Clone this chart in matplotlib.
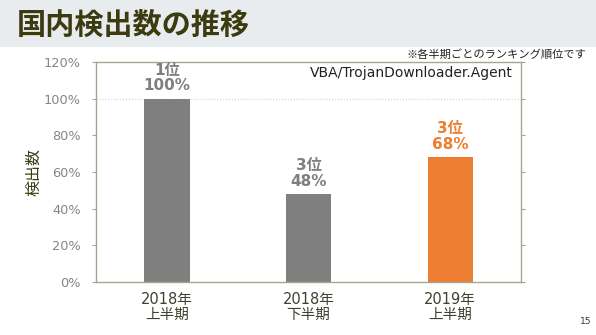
import matplotlib
matplotlib.use('Agg')
import matplotlib.pyplot as plt
from matplotlib.patches import Rectangle
from matplotlib.ticker import PercentFormatter

plt.rcParams['font.family'] = ['Noto Sans CJK JP', 'DejaVu Sans']
LATIN_FIRST = ['DejaVu Sans', 'Noto Sans CJK JP']

# ─── data ─────────────────────────────────────────────────────────────────────
categories = ['2018年\n上半期', '2018年\n下半期', '2019年\n上半期']
values = [100, 48, 68]
ranks = ['1位', '3位', '3位']
bar_colors = ['#7f7f7f', '#7f7f7f', '#ed7d31']

title = '国内検出数の推移'
ylabel = '検出数'
series_name = 'VBA/TrojanDownloader.Agent'
note = '※各半期ごとのランキング順位です'
page = '15'

# ─── figure ───────────────────────────────────────────────────────────────────
W, H = 596, 335
fig = plt.figure(figsize=(W / 100, H / 100), dpi=100)
fig.patch.set_facecolor('white')

# title band
fig.patches.append(Rectangle((0, 1 - 47 / H), 1, 47 / H, transform=fig.transFigure,
                             facecolor='#e9ecef', edgecolor='none', zorder=0))
fig.text(17 / W, 1 - 25 / H, title, fontsize=21, fontweight='bold',
         color='#3b3b0f', va='center', ha='left')
fig.text(586 / W, 1 - 55 / H, note, fontsize=8.1, color='#222222',
         va='center', ha='right')
fig.text(591 / W, 1 - 322 / H, page, fontsize=6.5, color='#333333',
         va='center', ha='right', family='DejaVu Sans')

ax = fig.add_axes([96 / W, 1 - 282 / H, 425 / W, 220 / H])
x = range(len(categories))
bars = ax.bar(x, values, width=0.32, color=bar_colors, zorder=2)

ax.set_xlim(-0.5, 2.5)
ax.set_ylim(0, 120)
ax.set_yticks(range(0, 121, 20))
ax.yaxis.set_major_formatter(PercentFormatter(decimals=0))
ax.axhline(100, color='#d0d0d0', linewidth=0.8, linestyle=':', zorder=1)

ax.set_xticks(list(x))
ax.set_xticklabels(categories, fontsize=10.5, color='#404030', linespacing=1.05,
                   family=LATIN_FIRST)
ax.tick_params(axis='x', length=0, pad=7)
ax.tick_params(axis='y', labelsize=9.3, labelcolor='#858585', color='#a8a491',
               length=3, right=True, direction='out', pad=8)
for lab in ax.get_yticklabels():
    lab.set_family('DejaVu Sans')
for sp in ax.spines.values():
    sp.set_color('#a8a491')
    sp.set_linewidth(1.0)

ax.set_ylabel(ylabel, fontsize=11.5, color='#3b3b0f', labelpad=1)

for xi, v, r, c in zip(x, values, ranks, bar_colors):
    ax.text(xi, v + 3, f'{r}\n{v}%', ha='center', va='bottom', fontsize=11,
            fontweight='bold', color=c, linespacing=1.05, family=LATIN_FIRST)

ax.text(0.98, 0.95, series_name, transform=ax.transAxes, ha='right', va='center',
        fontsize=10, color='#222222', family='DejaVu Sans')

fig.savefig('out.png', dpi=100, facecolor=fig.get_facecolor())
